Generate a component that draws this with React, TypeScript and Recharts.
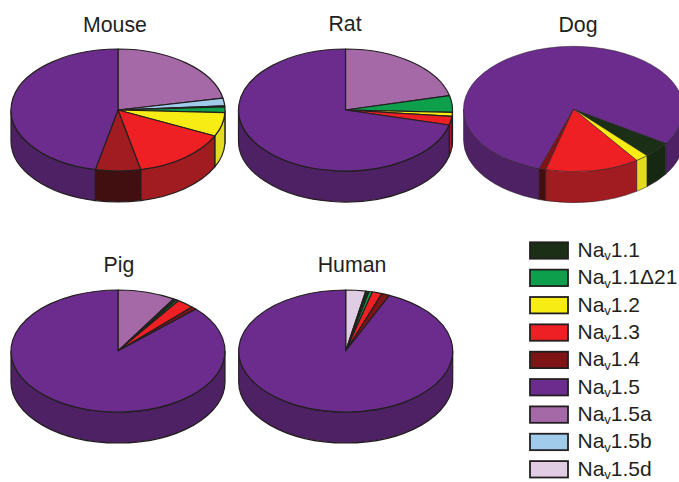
import { Pie, PieChart } from 'recharts';

// slice order is the clockwise order round the pies
const channels = ['1.5d', '1.5a', '1.5b', '1.1', '1.1Δ21', '1.2', '1.3', '1.4', '1.5'];
const legendOrder = ['1.1', '1.1Δ21', '1.2', '1.3', '1.4', '1.5', '1.5a', '1.5b', '1.5d'];

// percent of total, same order as channels
const mouseValues = [0, 21.9, 2.0, 0.3, 1.5, 6.3, 14.6, 6.8, 46.6];
const ratValues = [0, 21.2, 0, 0, 4.4, 1.05, 2.3, 0, 71.05];
const dogValues = [0, 0, 0, 4.2, 0, 1.9, 13.8, 1.0, 79.1];
const pigValues = [0, 8.7, 0, 0.5, 0.35, 0, 2.6, 0.8, 87.05];
const humanValues = [3.0, 0, 0, 0.5, 0.5, 0, 1.5, 1.2, 93.3];

const topColors: Record<string, string> = {
  '1.1': '#1b2f17',
  '1.1Δ21': '#0d9f4b',
  '1.2': '#f7ec13',
  '1.3': '#ee2024',
  '1.4': '#7e1416',
  '1.5': '#6b2c8e',
  '1.5a': '#a569a8',
  '1.5b': '#a0cbeb',
  '1.5d': '#e0cde3',
};
const wallColors: Record<string, string> = {
  '1.1': '#162812',
  '1.1Δ21': '#0a7a3a',
  '1.2': '#e2db20',
  '1.3': '#a01c20',
  '1.4': '#420f10',
  '1.5': '#4d2163',
  '1.5a': '#7c4f7e',
  '1.5b': '#7898b0',
  '1.5d': '#a899aa',
};

const INK = '#231f20';
const SQUASH = 0.57;
const DEPTH = 31;

const point = (cx: number, cy: number, r: number, deg: number) => {
  const a = (deg * Math.PI) / 180;
  return [cx + r * Math.sin(a), cy - r * SQUASH * Math.cos(a)];
};

// deg here runs clockwise from 12 o'clock, recharts gives 90 - deg
function TopSlice(props: any) {
  const { cx, cy, outerRadius: r, startAngle, endAngle, fill, strokeWidth } = props;
  const from = 90 - startAngle;
  const to = 90 - endAngle;
  if (to - from <= 0) return null;
  const [x1, y1] = point(cx, cy, r, from);
  const [x2, y2] = point(cx, cy, r, to);
  const large = to - from > 180 ? 1 : 0;
  const d = `M${cx},${cy}L${x1},${y1}A${r},${r * SQUASH} 0 ${large} 1 ${x2},${y2}Z`;
  return <path d={d} fill={fill} stroke={INK} strokeWidth={strokeWidth} strokeLinejoin="round" />;
}

function WallSlice(props: any) {
  const { cx, cy, outerRadius: r, startAngle, endAngle, fill, strokeWidth } = props;
  const from = 90 - startAngle;
  const to = 90 - endAngle;
  if (to - from <= 0) return null;
  // only the front half of the rim shows
  const parts = [0, 360].map((turn) => {
    const lo = Math.max(from, 90 + turn);
    const hi = Math.min(to, 270 + turn);
    if (hi <= lo) return null;
    const [x1, y1] = point(cx, cy, r, lo);
    const [x2, y2] = point(cx, cy, r, hi);
    const rim = `${r},${r * SQUASH} 0 0`;
    const d = `M${x1},${y1}A${rim} 1 ${x2},${y2}L${x2},${y2 + DEPTH}A${rim} 0 ${x1},${y1 + DEPTH}Z`;
    return <path key={turn} d={d} fill={fill} stroke={INK} strokeWidth={strokeWidth} strokeLinejoin="round" />;
  });
  return <g>{parts}</g>;
}

const table = (values: number[], colors: Record<string, string>, override: Record<string, string> = {}) =>
  channels.map((name, i) => ({ name, value: values[i], fill: override[name] ?? colors[name] }));

const pies = [
  { title: 'Mouse', values: mouseValues, cx: 118, cy: 110, r: 107, first: 0, line: 1.2, titleX: 115, titleY: 32, top: { '1.4': '#a01c20' } },
  { title: 'Rat', values: ratValues, cx: 345.5, cy: 110, r: 107, first: 0, line: 1.2, titleX: 345, titleY: 31, top: {} },
  { title: 'Dog', values: dogValues, cx: 573.5, cy: 109, r: 110, first: 123, line: 0.5, titleX: 578, titleY: 32, top: {} },
  { title: 'Pig', values: pigValues, cx: 118, cy: 351, r: 107, first: 0, line: 1.2, titleX: 119, titleY: 272, top: {} },
  { title: 'Human', values: humanValues, cx: 345.7, cy: 351, r: 107, first: 0, line: 1.2, titleX: 352, titleY: 272, top: {} },
];

export default function App() {
  return (
    <div style={{ position: 'absolute', left: 0, top: 0, width: 679, height: 482, overflow: 'hidden', background: '#fff' }}>
      <PieChart width={679} height={482} margin={{ top: 0, right: 0, bottom: 0, left: 0 }}>
        {pies.flatMap((p) => {
          const start = 90 - p.first;
          return [
            <Pie
              key={p.title + '-wall'}
              data={table(p.values, wallColors)}
              dataKey="value"
              nameKey="name"
              cx={p.cx}
              cy={p.cy}
              outerRadius={p.r}
              startAngle={start}
              endAngle={start - 360}
              strokeWidth={p.line}
              shape={WallSlice}
              isAnimationActive={false}
            />,
            <Pie
              key={p.title + '-top'}
              data={table(p.values, topColors, p.top)}
              dataKey="value"
              nameKey="name"
              cx={p.cx}
              cy={p.cy}
              outerRadius={p.r}
              startAngle={start}
              endAngle={start - 360}
              strokeWidth={p.line}
              shape={TopSlice}
              isAnimationActive={false}
            />,
          ];
        })}
        {pies.map((p) => (
          <text
            key={p.title}
            x={p.titleX}
            y={p.titleY}
            textAnchor="middle"
            fontFamily="Liberation Sans"
            fontSize={21.3}
            fill={INK}
          >
            {p.title}
          </text>
        ))}
        {legendOrder.map((name, i) => {
          const mid = 250.5 + i * 27.35;
          return (
            <g key={name}>
              <rect x={530} y={mid - 8.2} width={38} height={16.4} fill={topColors[name]} stroke={INK} strokeWidth={1.8} />
              <text x={577.5} y={mid + 6.3} fontFamily="Liberation Sans" fontSize={21} fill={INK}>
                Na
                <tspan fontSize={13} dy={3.5}>v</tspan>
                <tspan dy={-3.5}>{name}</tspan>
              </text>
            </g>
          );
        })}
      </PieChart>
    </div>
  );
}
